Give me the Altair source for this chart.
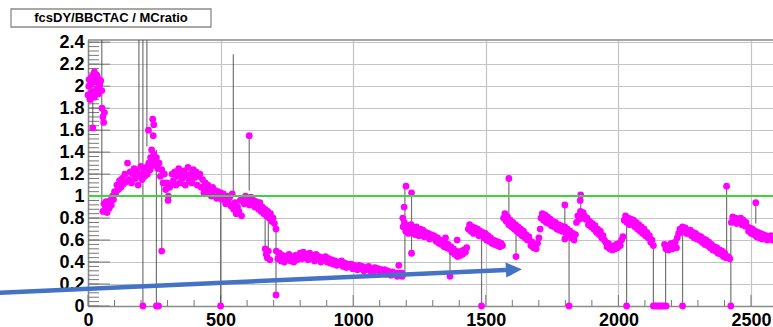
import altair as alt
import pandas as pd

# ---------------- data ----------------
# main band of magenta points: (first run, run step, ratio values)
band_segments = [
    (0, 4, [1.92, 2.06, 1.88, 2.02, 1.95, 2.1, 1.9, 2.04, 1.97, 2.08, 1.93, 2.01, 2.05, 1.96]),
    (53, 3, [1.8, 1.72, 1.67, 1.76]),
    (56, 4, [0.86, 0.93, 0.88, 0.95, 0.85, 0.91, 0.89, 0.96, 0.92, 1.0, 0.97, 1.04]),
    (104, 5, [1.02, 1.1, 1.06, 1.14, 1.08, 1.16, 1.11, 1.2, 1.13, 1.3, 1.15, 1.22,
              1.12, 1.2, 1.25, 1.16, 1.23, 1.1, 1.19, 1.27, 1.15, 1.22, 1.18, 1.26,
              1.2, 1.3, 1.24, 1.33, 1.28]),
    (248, 5, [1.38, 1.3, 1.35, 1.25, 1.3, 1.18, 1.24, 1.12, 1.2, 1.06, 1.12, 1.0, 1.08]),
    (312, 5, [1.1, 1.2, 1.14, 1.22, 1.1, 1.18, 1.25, 1.12, 1.2, 1.16, 1.23, 1.1,
              1.19, 1.26, 1.14, 1.2, 1.12, 1.24, 1.17, 1.22, 1.1, 1.18, 1.2, 1.08,
              1.15, 1.03, 1.12, 1.06, 1.1, 1.02]),
    (460, 5, [1.06, 1.0, 1.08, 1.02, 1.05, 0.98, 1.04, 1.0, 1.03, 0.97, 1.02]),
    (514, 5, [0.98, 0.93, 1.0, 0.95, 0.99, 0.91, 1.02, 0.88, 0.94, 0.84, 0.9, 0.86,
              0.96, 0.82, 0.98, 0.93, 1.0, 0.95, 0.97, 0.92, 0.99, 0.94, 0.96, 0.9, 0.95]),
    (638, 5, [0.92, 0.88, 0.94, 0.86, 0.9, 0.84, 0.88, 0.82, 0.86, 0.8, 0.84, 0.77,
              0.8, 0.75]),
    (710, 6, [0.5, 0.43, 0.48, 0.41, 0.46, 0.4, 0.45, 0.42, 0.47, 0.41, 0.44, 0.4,
              0.46, 0.42, 0.45, 0.48,
              0.43, 0.49, 0.44, 0.47, 0.42, 0.48, 0.44, 0.46, 0.41, 0.47, 0.43, 0.45,
              0.4, 0.44, 0.42, 0.45, 0.4,
              0.43, 0.39, 0.42, 0.38, 0.41, 0.37, 0.4, 0.38, 0.41, 0.36, 0.39, 0.35,
              0.38, 0.36, 0.38, 0.34, 0.37,
              0.35, 0.33, 0.37, 0.34, 0.36, 0.32, 0.35, 0.33, 0.36, 0.32, 0.34, 0.31,
              0.35, 0.33, 0.34, 0.31, 0.33,
              0.3, 0.33, 0.29, 0.32, 0.3, 0.28, 0.31, 0.29, 0.3, 0.27, 0.3, 0.28, 0.3]),
    (1188, 5, [0.72, 0.76, 0.68, 0.73, 0.66, 0.71, 0.74, 0.67, 0.7, 0.65, 0.72, 0.68,
               0.64, 0.7, 0.66, 0.69, 0.63, 0.67, 0.64, 0.66, 0.61, 0.65, 0.62, 0.64]),
    (1308, 5, [0.63, 0.59, 0.62, 0.57, 0.6, 0.56, 0.59, 0.54, 0.57, 0.53, 0.56, 0.52,
               0.54, 0.49, 0.52, 0.47, 0.5, 0.45, 0.49, 0.46, 0.5, 0.47, 0.51, 0.49, 0.53]),
    (1434, 5, [0.7, 0.74, 0.68, 0.72, 0.66, 0.71, 0.67, 0.7, 0.64, 0.68, 0.65]),
    (1488, 5, [0.67, 0.62, 0.66, 0.6, 0.64, 0.59, 0.62, 0.57, 0.6, 0.56, 0.59, 0.55,
               0.58, 0.54, 0.57, 0.55]),
    (1567, 5, [0.8, 0.84, 0.77, 0.81, 0.74, 0.78, 0.72, 0.76, 0.7, 0.74, 0.68, 0.72,
               0.66, 0.7, 0.64, 0.68, 0.62, 0.65, 0.6, 0.63]),
    (1665, 5, [0.6, 0.55, 0.58, 0.53, 0.56, 0.52, 0.57, 0.62, 0.7]),
    (1708, 5, [0.8, 0.84, 0.78, 0.83, 0.76, 0.81, 0.75, 0.79, 0.73, 0.77, 0.72, 0.76,
               0.7, 0.74, 0.69, 0.73, 0.68, 0.71]),
    (1798, 5, [0.72, 0.66, 0.7, 0.64, 0.68, 0.62, 0.66, 0.6, 0.65]),
    (1842, 5, [0.76, 0.82, 0.79, 0.86, 0.8, 0.85, 0.82, 0.79]),
    (1882, 5, [0.8, 0.74, 0.77, 0.72, 0.75, 0.7, 0.73, 0.67, 0.7, 0.65, 0.68, 0.62,
               0.64, 0.6]),
    (1952, 5, [0.58, 0.54, 0.57, 0.52, 0.55, 0.51, 0.54, 0.52, 0.56, 0.53, 0.57, 0.55,
               0.6, 0.63]),
    (2022, 5, [0.78, 0.82, 0.76, 0.8, 0.74, 0.79, 0.75, 0.78, 0.72, 0.76, 0.7, 0.74,
               0.68, 0.72, 0.66, 0.7, 0.64, 0.67, 0.62, 0.64, 0.58, 0.6, 0.55]),
    (2174, 5, [0.56, 0.52, 0.55, 0.51, 0.54, 0.57, 0.52, 0.55, 0.58, 0.53]),
    (2222, 5, [0.62, 0.66, 0.7, 0.67, 0.72, 0.68, 0.71, 0.66, 0.69]),
    (2266, 5, [0.66, 0.69, 0.64, 0.67, 0.62, 0.66, 0.61, 0.64, 0.6, 0.63, 0.58, 0.61,
               0.56, 0.6, 0.55, 0.58, 0.53, 0.56, 0.51, 0.54, 0.5, 0.53, 0.48, 0.51,
               0.47, 0.5, 0.45, 0.48, 0.44]),
    (2426, 5, [0.76, 0.81, 0.77, 0.8, 0.75, 0.79, 0.76, 0.8, 0.74, 0.78, 0.73, 0.76]),
    (2486, 5, [0.72, 0.68, 0.71, 0.66, 0.7, 0.65, 0.68, 0.63, 0.67, 0.62, 0.66, 0.61,
               0.65, 0.62, 0.64, 0.6, 0.63, 0.61, 0.64, 0.6, 0.63, 0.61, 0.62]),
]

# single outlying points
extra_runs = [3, 8, 13, 18, 24, 28, 33, 38, 44, 228, 236, 240, 244, 246, 248, 278,
              302, 608, 668, 672, 676, 680, 686, 709, 709, 1172, 1185, 1187, 1192,
              1199, 1220, 1220, 1348, 1365, 1392, 1587, 1614, 1798, 1798, 1856, 1858,
              2408, 2414, 2420, 2518]
extra_ratio = [2.0, 1.88, 2.08, 1.62, 2.13, 1.95, 2.1, 1.97, 2.02, 1.6, 1.35, 1.42,
               1.7, 1.55, 1.65, 0.5, 0.96, 1.55, 0.52, 0.47, 0.44, 0.5, 0.42, 0.7,
               0.1, 0.37, 0.27, 0.8, 0.9, 1.09, 1.03, 0.48, 0.62, 0.27, 0.6, 1.16,
               0.45, 0.92, 0.61, 0.96, 1.01, 1.09, 0.45, 0.43, 0.94]

# runs with a ratio of zero
zero_runs = [207, 258, 266, 500, 1484, 1814, 2031, 2132, 2140, 2148, 2156, 2164,
             2172, 2180, 2242, 2424]

# large error bars: run, low end, high end
bar_runs = [18, 52, 192, 207, 222, 258, 278, 500, 548, 608, 668, 680, 709, 1195,
            1220, 1365, 1484, 1587, 1614, 1798, 1814, 1858, 2031, 2132, 2178, 2242,
            2408, 2424, 2518]
bar_lo = [1.62, 0.95, 1.28, 0.0, 1.45, 0.0, 0.5, 0.0, 1.0, 1.05, 0.47, 0.45, 0.1,
          0.3, 0.48, 0.27, 0.0, 0.75, 0.45, 0.63, 0.0, 0.85, 0.0, 0.0, 0.0, 0.0,
          0.5, 0.0, 0.75]
bar_hi = [2.0, 2.6, 2.6, 2.6, 2.6, 1.42, 1.12, 1.0, 2.29, 1.55, 0.85, 0.82, 0.72,
          1.09, 1.03, 0.55, 0.7, 1.16, 0.7, 0.92, 0.7, 1.02, 0.8, 0.58, 0.55, 0.65,
          1.09, 0.72, 0.94]

reference_level = [1.0]

# annotation arrow (in run / ratio units)
arrow_runs = [-332, 1576]
arrow_ratio = [0.121, 0.327]
arrow_head_run = [1606]
arrow_head_ratio = [0.331]

x_ticks = [0, 500, 1000, 1500, 2000, 2500]
y_ticks = [0, 0.2, 0.4, 0.6, 0.8, 1.0, 1.2, 1.4, 1.6, 1.8, 2.0, 2.2, 2.4]
x_minor_ticks = [100, 200, 300, 400, 600, 700, 800, 900, 1100, 1200, 1300, 1400,
                 1600, 1700, 1800, 1900, 2100, 2200, 2300, 2400, 2600]
y_minor_ticks = [round(0.04 * i, 2) for i in range(61)]

title_text = "fcsDY/BBCTAC / MCratio"

# ---------------- tables ----------------
runs, ratios = [], []
for start, step, vals in band_segments:
    for i, v in enumerate(vals):
        runs.append(start + step * i)
        ratios.append(v)
runs += extra_runs + zero_runs
ratios += extra_ratio + [0.0] * len(zero_runs)
points = pd.DataFrame({"run": runs, "ratio": ratios})
bars = pd.DataFrame({"run": bar_runs, "lo": bar_lo, "hi": bar_hi})
arrow = pd.DataFrame({"run": arrow_runs, "ratio": arrow_ratio})
head = pd.DataFrame({"run": arrow_head_run, "ratio": arrow_head_ratio})
level = pd.DataFrame({"ratio": reference_level})
ymin = pd.DataFrame({"ratio": y_minor_ticks})
ymaj = pd.DataFrame({"ratio": y_ticks})
xmin = pd.DataFrame({"run": x_minor_ticks})
xmaj = pd.DataFrame({"run": x_ticks})
one = pd.DataFrame({"t": [title_text]})

# ---------------- chart ----------------
W, H = 685, 266
FONT = "Liberation Sans"
xs = alt.Scale(domain=[0, 2583], nice=False, zero=False)
ys = alt.Scale(domain=[0, 2.42], nice=False, zero=False)
xaxis = alt.Axis(values=x_ticks, format="d", title=None, grid=True,
                 gridColor="#c4c4c4", gridWidth=1.2, tickSize=0, labelPadding=5,
                 labelFont=FONT, labelFontSize=18, labelFontWeight="bold",
                 labelColor="black", domainColor="#8a8a8a", domainWidth=1.5,
                 labelFlush=False)
yaxis = alt.Axis(values=y_ticks, format=".1~f", title=None, grid=True,
                 gridColor="#c4c4c4", gridWidth=1.2, tickSize=0, labelPadding=4,
                 labelFont=FONT, labelFontSize=18, labelFontWeight="bold",
                 labelColor="black", domainColor="#8a8a8a", domainWidth=1.5)
X = alt.X("run:Q", scale=xs, axis=xaxis)
Y = alt.Y("ratio:Q", scale=ys, axis=yaxis)

pts = alt.Chart(points).mark_circle(size=46, color="#ff00ff", opacity=1).encode(x=X, y=Y)

errs = alt.Chart(bars).mark_rule(color="#454545", strokeWidth=1.2, opacity=0.75,
                                 clip=True).encode(
    x=X, y=alt.Y("lo:Q", scale=ys, axis=yaxis), y2="hi:Q")

green = alt.Chart(level).mark_rule(color="#3fd43f", strokeWidth=2).encode(
    y=Y, x=alt.value(0), x2=alt.value(W))

ytick_minor = alt.Chart(ymin).mark_rule(color="#777777", strokeWidth=1).encode(
    y=Y, x=alt.value(0), x2=alt.value(11))
ytick_major = alt.Chart(ymaj).mark_rule(color="#777777", strokeWidth=1).encode(
    y=Y, x=alt.value(0), x2=alt.value(22))
xtick_minor = alt.Chart(xmin).mark_rule(color="#777777", strokeWidth=1).encode(
    x=X, y=alt.value(H), y2=alt.value(H - 6))
xtick_major = alt.Chart(xmaj).mark_rule(color="#777777", strokeWidth=1).encode(
    x=X, y=alt.value(H), y2=alt.value(H - 11))

top_frame = alt.Chart(one).mark_rule(color="#8a8a8a", strokeWidth=1.5).encode(
    x=alt.value(0), x2=alt.value(W), y=alt.value(0))

arrow_line = alt.Chart(arrow).mark_line(color="#4472c4", strokeWidth=4.5,
                                        clip=False).encode(x=X, y=Y)
arrow_head = alt.Chart(head).mark_point(
    shape="M -1 -0.95 L 1 0 L -1 0.95 Z", filled=True, size=256, angle=357.4,
    color="#4472c4", opacity=1, clip=False).encode(x=X, y=Y)

title_box = alt.Chart(one).mark_rect(fill="white", stroke="#8a8a8a",
                                     strokeWidth=1.3).encode(
    x=alt.value(-77), x2=alt.value(123), y=alt.value(-31), y2=alt.value(-13))
title_lbl = alt.Chart(one).mark_text(font=FONT, fontSize=13, fontWeight="bold",
                                     color="black", align="center",
                                     baseline="middle").encode(
    text="t:N", x=alt.value(23), y=alt.value(-22))

chart = alt.layer(
    xtick_minor, xtick_major, ytick_minor, ytick_major, top_frame,
    errs, pts, green, arrow_line, arrow_head, title_box, title_lbl
).properties(
    width=W, height=H,
    autosize=alt.AutoSizeParams(type="none"),
    padding={"left": 88, "top": 40, "right": 0, "bottom": 21},
    background="white",
).configure_view(stroke=None)

chart.save("out.html", embed_options={"renderer": "svg", "actions": False})
